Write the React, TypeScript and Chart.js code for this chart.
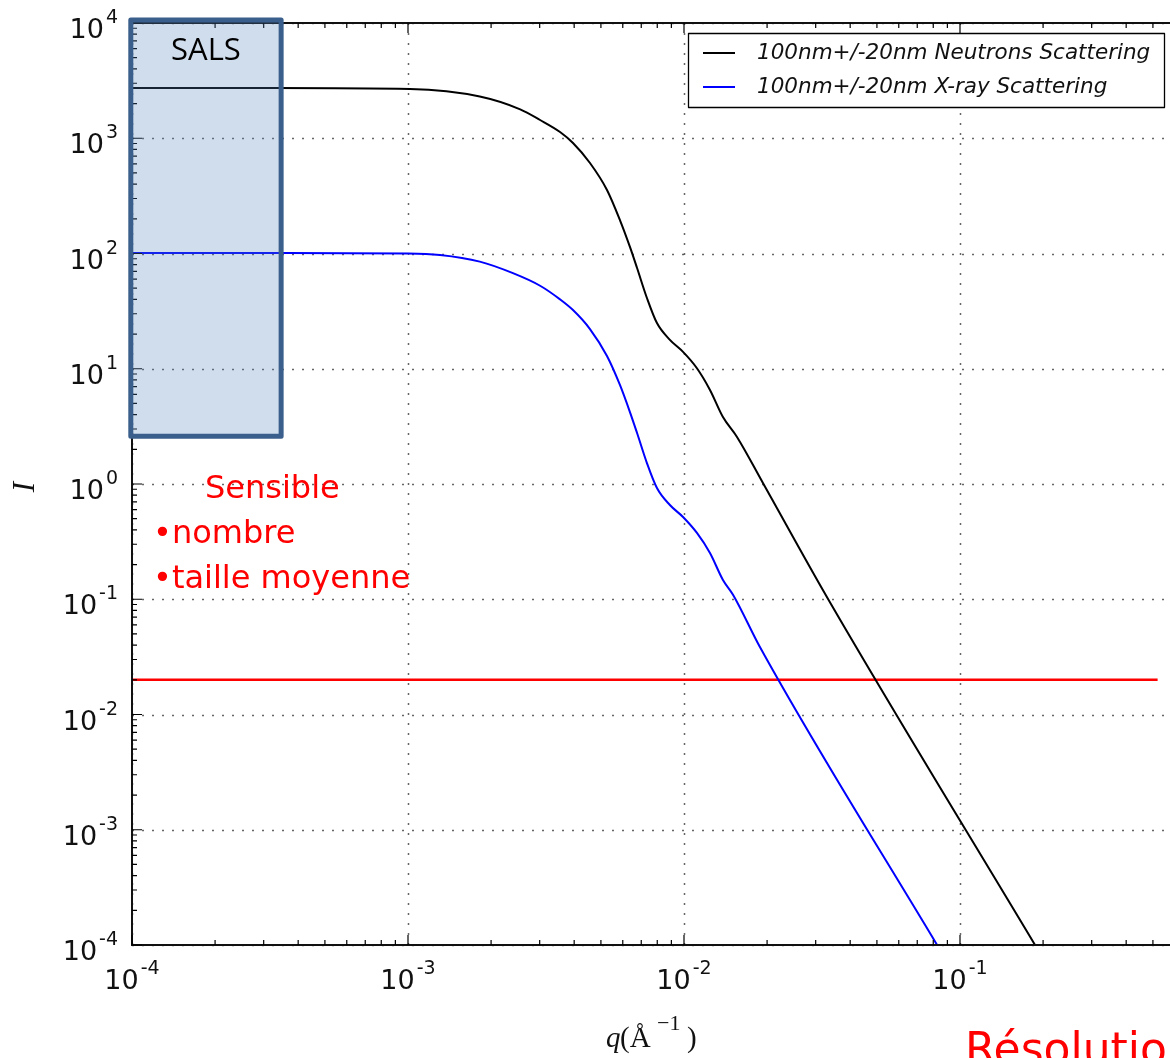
import { useEffect, useRef } from "react";
import { Chart, registerables } from "chart.js";

Chart.register(...registerables);

// ---- data ----
const Q_NEUTRONS = [1e-4, 3e-4, 1.016e-3, 1.82e-3, 2.55e-3, 3.01e-3, 3.555e-3, 3.961e-3, 4.564e-3, 5.26e-3, 5.86e-3, 6.37e-3, 6.76e-3, 7.34e-3, 7.98e-3, 8.89e-3, 9.92e-3, 1.114e-2, 1.242e-2, 1.384e-2, 1.556e-2, 1.932e-2, 3.33e-2, 0.187, 0.25];
const I_NEUTRONS = [2730, 2725, 2673, 2300, 1780, 1440, 1133, 910, 610, 356, 195, 114, 74.8, 41.1, 24.9, 17.8, 14.0, 10.1, 6.55, 3.81, 2.56, 1.02, 0.1, 1.0e-4, 3.13e-5];

const Q_XRAY = [1e-4, 3e-4, 1.0e-3, 1.306e-3, 1.82e-3, 2.4e-3, 3.01e-3, 3.555e-3, 3.961e-3, 4.564e-3, 5.26e-3, 5.86e-3, 6.37e-3, 6.76e-3, 7.34e-3, 7.98e-3, 8.89e-3, 9.92e-3, 1.114e-2, 1.242e-2, 1.384e-2, 1.507e-2, 1.884e-2, 8.26e-2, 0.12];
const I_XRAY = [101, 101, 100, 97.0, 85.0, 67.5, 52.5, 40.0, 32.3, 22.1, 12.9, 7.23, 4.21, 2.77, 1.52, 0.923, 0.657, 0.517, 0.376, 0.252, 0.147, 0.109, 0.0385, 1.0e-4, 2.25e-5];

const Q_THRESHOLD = [1e-4, 0.52];
const I_THRESHOLD = [0.02, 0.02];

const SERIES_LABELS = ["100nm+/-20nm Neutrons Scattering", "100nm+/-20nm X-ray Scattering"];
const SERIES_COLORS = ["#000000", "#0000ff"];
const THRESHOLD_COLOR = "#ff0000";

const X_RANGE = [1e-4, 1];
const Y_RANGE = [1e-4, 1e4];
const X_TICK_EXPONENTS = [-4, -3, -2, -1, 0];
const Y_TICK_EXPONENTS = [4, 3, 2, 1, 0, -1, -2, -3, -4];

const SALS_Q = [0.99e-4, 3.47e-4];
const SALS_I = [2.6, 1.06e4];
const SALS_LABEL = "SALS";
const NOTE_LINES = ["Sensible", "\u2022nombre", "\u2022taille moyenne"];
const RESOLUTION_LABEL = "Résolution";
const X_TITLE = ["q", "(Å", "\u22121", ")"];
const Y_TITLE = "I";

const toXY = (qs: number[], is: number[]) => qs.map((q, i) => ({ x: q, y: is[i] }));

const decorations = {
  id: "decorations",
  beforeDatasetsDraw(chart: any) {
    const { ctx, chartArea: a, scales } = chart;
    const xs = scales.x;
    const ys = scales.y;
    ctx.save();
    ctx.strokeStyle = "rgba(0,0,0,0.6)";
    ctx.lineWidth = 1.5;
    ctx.setLineDash([2, 8]);
    X_TICK_EXPONENTS.forEach((e) => {
      const px = Math.round(xs.getPixelForValue(Math.pow(10, e))) + 0.5;
      ctx.beginPath();
      ctx.moveTo(px, a.top);
      ctx.lineTo(px, a.bottom);
      ctx.stroke();
    });
    Y_TICK_EXPONENTS.forEach((e) => {
      const py = Math.round(ys.getPixelForValue(Math.pow(10, e))) + 0.5;
      ctx.beginPath();
      ctx.moveTo(a.left, py);
      ctx.lineTo(a.right, py);
      ctx.stroke();
    });
    ctx.restore();
  },
  afterDatasetsDraw(chart: any) {
    const { ctx, chartArea: a, scales } = chart;
    const xs = scales.x;
    const ys = scales.y;
    ctx.save();
    ctx.setLineDash([]);

    // frame
    ctx.strokeStyle = "#111";
    ctx.lineWidth = 2;
    ctx.strokeRect(a.left, a.top, a.right - a.left, a.bottom - a.top);

    // ticks
    ctx.lineWidth = 1.2;
    ctx.strokeStyle = "#000";
    const minorK = [2, 3, 4, 5, 6, 7, 8, 9];
    X_TICK_EXPONENTS.forEach((e) => {
      const vals = [{ v: Math.pow(10, e), len: 10 }];
      if (e < 0) minorK.forEach((k) => vals.push({ v: k * Math.pow(10, e), len: 5 }));
      vals.forEach(({ v, len }) => {
        const px = xs.getPixelForValue(v);
        ctx.beginPath();
        ctx.moveTo(px, a.bottom);
        ctx.lineTo(px, a.bottom - len);
        ctx.moveTo(px, a.top);
        ctx.lineTo(px, a.top + len);
        ctx.stroke();
      });
    });
    Y_TICK_EXPONENTS.forEach((e) => {
      const vals = [{ v: Math.pow(10, e), len: 10 }];
      if (e < 4) minorK.forEach((k) => vals.push({ v: k * Math.pow(10, e), len: 5 }));
      vals.forEach(({ v, len }) => {
        const py = ys.getPixelForValue(v);
        ctx.beginPath();
        ctx.moveTo(a.left, py);
        ctx.lineTo(a.left + len, py);
        ctx.moveTo(a.right, py);
        ctx.lineTo(a.right - len, py);
        ctx.stroke();
      });
    });

    // tick labels (10^n)
    const baseFont = '27px "DejaVu Sans", sans-serif';
    const expFont = '19px "DejaVu Sans", sans-serif';
    ctx.fillStyle = "#111";
    ctx.textBaseline = "alphabetic";
    const measure = (txt: string, font: string) => {
      ctx.font = font;
      return ctx.measureText(txt).width;
    };
    const drawPow = (e: number, left: number, baseline: number) => {
      const expTxt = String(e);
      ctx.textAlign = "left";
      ctx.font = baseFont;
      ctx.fillText("10", left, baseline);
      const w10 = measure("10", baseFont);
      ctx.font = expFont;
      ctx.fillText(expTxt, left + w10 + 2, baseline - 15);
    };
    const powWidth = (e: number) => measure("10", baseFont) + 2 + measure(String(e), expFont);
    Y_TICK_EXPONENTS.forEach((e) => {
      const py = ys.getPixelForValue(Math.pow(10, e));
      const w = powWidth(e);
      drawPow(e, 118 - w, py + 15);
    });
    X_TICK_EXPONENTS.forEach((e) => {
      const px = xs.getPixelForValue(Math.pow(10, e));
      const w = powWidth(e);
      drawPow(e, px - w / 2, a.bottom + 44);
    });

    // axis titles
    ctx.fillStyle = "#111";
    const tb = 1047;
    ctx.textAlign = "left";
    ctx.font = 'italic 29px "Liberation Serif", serif';
    ctx.fillText(X_TITLE[0], 606, tb);
    ctx.font = '29px "Liberation Serif", serif';
    ctx.fillText(X_TITLE[1], 620, tb);
    ctx.font = '22px "Liberation Serif", serif';
    ctx.fillText(X_TITLE[2], 657, tb - 17);
    ctx.font = '29px "Liberation Serif", serif';
    ctx.fillText(X_TITLE[3], 687, tb);

    ctx.save();
    ctx.translate(34, 487);
    ctx.rotate(-Math.PI / 2);
    ctx.textAlign = "center";
    ctx.font = 'italic 31px "Liberation Serif", serif';
    ctx.fillText(Y_TITLE, 0, 0);
    ctx.restore();

    // SALS box
    const bx0 = xs.getPixelForValue(SALS_Q[0]);
    const bx1 = xs.getPixelForValue(SALS_Q[1]);
    const by0 = ys.getPixelForValue(SALS_I[1]);
    const by1 = ys.getPixelForValue(SALS_I[0]);
    ctx.fillStyle = "rgba(79,129,189,0.27)";
    ctx.fillRect(bx0, by0, bx1 - bx0, by1 - by0);
    ctx.strokeStyle = "#3b5f8c";
    ctx.lineWidth = 5;
    ctx.lineJoin = "round";
    ctx.strokeRect(bx0, by0, bx1 - bx0, by1 - by0);
    ctx.fillStyle = "#000";
    ctx.font = '31px "Open Sans", sans-serif';
    ctx.textAlign = "center";
    ctx.fillText(SALS_LABEL, (bx0 + bx1) / 2, 60);

    // legend
    ctx.textAlign = "left";
    ctx.fillStyle = "#fff";
    ctx.fillRect(688.5, 33.5, 476, 74);
    ctx.strokeStyle = "#000";
    ctx.lineWidth = 1.3;
    ctx.strokeRect(688.5, 33.5, 476, 74);
    const ly = [53, 87];
    SERIES_LABELS.forEach((lab, i) => {
      ctx.strokeStyle = SERIES_COLORS[i];
      ctx.lineWidth = 2;
      ctx.beginPath();
      ctx.moveTo(703, ly[i]);
      ctx.lineTo(735, ly[i]);
      ctx.stroke();
      ctx.fillStyle = "#111";
      ctx.font = 'italic 21.5px "DejaVu Sans", sans-serif';
      ctx.textBaseline = "middle";
      ctx.fillText(lab, 757, ly[i]);
    });
    ctx.textBaseline = "alphabetic";

    // red annotations
    ctx.fillStyle = "#ff0000";
    ctx.font = '32px "Comic Sans MS", "DejaVu Sans", sans-serif';
    ctx.fillText(NOTE_LINES[0], 205, 498);
    ctx.fillText(NOTE_LINES[1], 153, 543);
    ctx.fillText(NOTE_LINES[2], 153, 588);
    ctx.font = '44px "Comic Sans MS", "DejaVu Sans", sans-serif';
    ctx.fillText(RESOLUTION_LABEL, 965, 1064);

    ctx.restore();
  },
};

export default function App() {
  const ref = useRef<HTMLCanvasElement | null>(null);
  useEffect(() => {
    if (!ref.current) return;
    const chart = new Chart(ref.current, {
      type: "line",
      data: {
        datasets: [
          {
            label: SERIES_LABELS[0],
            data: toXY(Q_NEUTRONS, I_NEUTRONS),
            borderColor: SERIES_COLORS[0],
            borderWidth: 2,
            pointRadius: 0,
            cubicInterpolationMode: "monotone",
          },
          {
            label: SERIES_LABELS[1],
            data: toXY(Q_XRAY, I_XRAY),
            borderColor: SERIES_COLORS[1],
            borderWidth: 2,
            pointRadius: 0,
            cubicInterpolationMode: "monotone",
          },
          {
            label: "threshold",
            data: toXY(Q_THRESHOLD, I_THRESHOLD),
            borderColor: THRESHOLD_COLOR,
            borderWidth: 2.5,
            pointRadius: 0,
          },
        ],
      },
      options: {
        animation: false,
        responsive: false,
        maintainAspectRatio: false,
        devicePixelRatio: 1,
        layout: { padding: { left: 132, top: 23, right: 64, bottom: 113 } },
        plugins: { legend: { display: false }, tooltip: { enabled: false } },
        scales: {
          x: { type: "logarithmic", min: X_RANGE[0], max: X_RANGE[1], display: false },
          y: { type: "logarithmic", min: Y_RANGE[0], max: Y_RANGE[1], display: false },
        },
      },
      plugins: [decorations],
    } as any);
    return () => chart.destroy();
  }, []);
  return (
    <div style={{ position: "fixed", left: 0, top: 0, width: 1170, height: 1058, overflow: "hidden", background: "#fff" }}>
      <canvas ref={ref} width={1300} height={1058} style={{ width: 1300, height: 1058, display: "block" }} />
    </div>
  );
}
